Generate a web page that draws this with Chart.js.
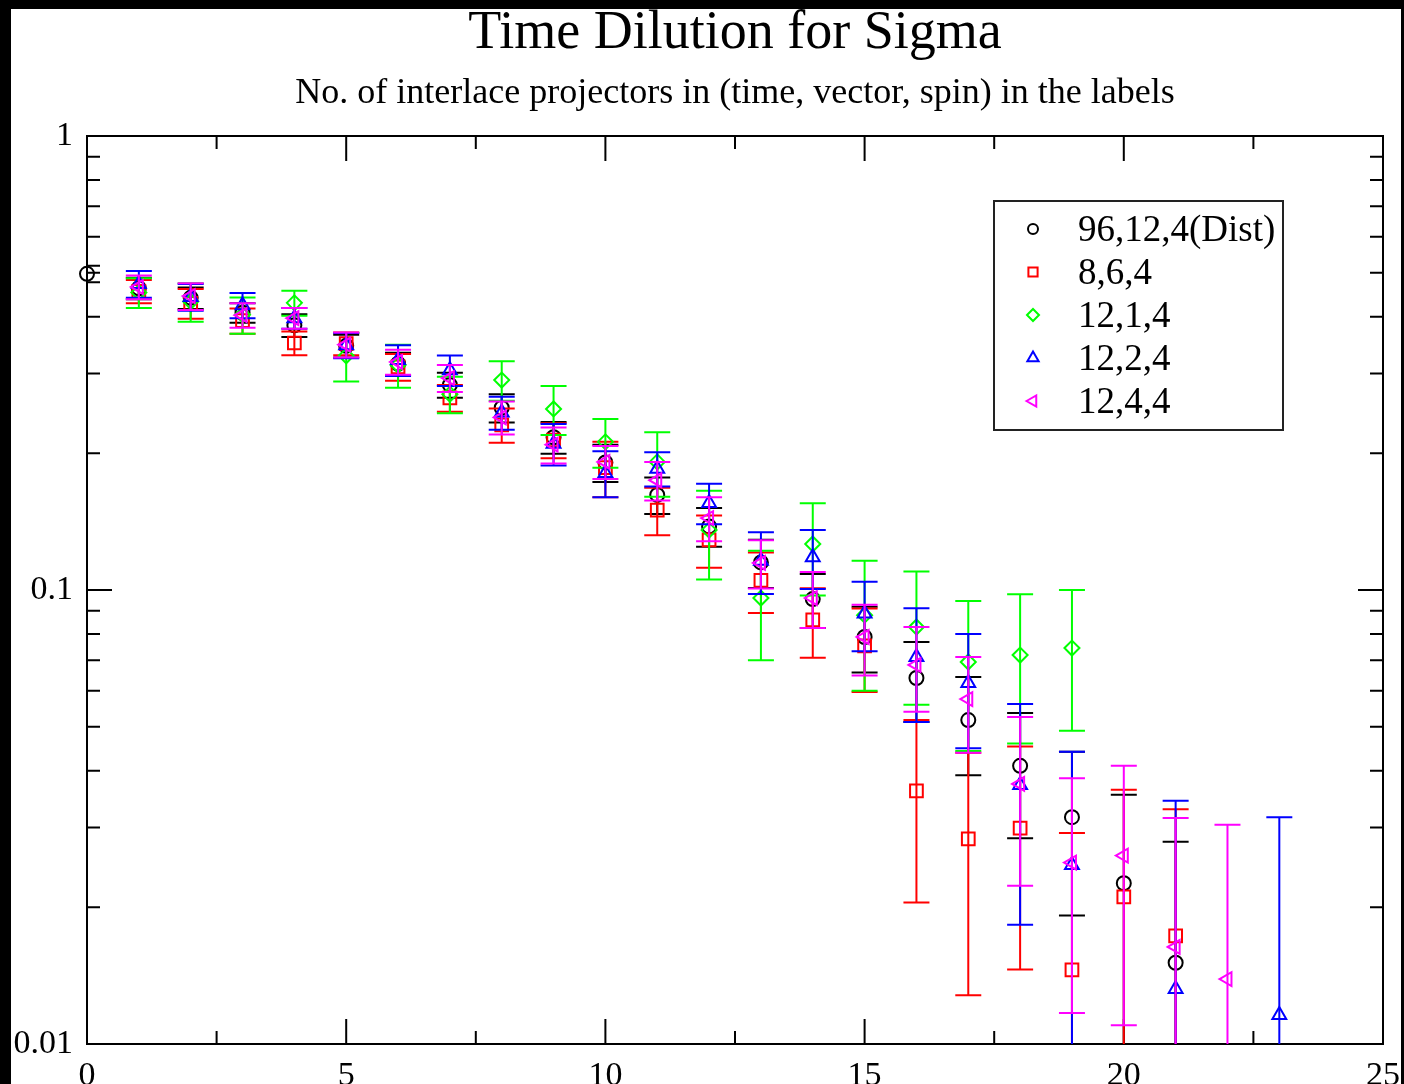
<!DOCTYPE html>
<html>
<head>
<meta charset="utf-8">
<script src="https://cdn.jsdelivr.net/npm/chart.js@4.4.1/dist/chart.umd.min.js"></script>
<style>
  html,body{margin:0;padding:0;background:#000;width:1404px;height:1084px;overflow:hidden}
  #wrap{position:absolute;left:11px;top:9px;width:1390px;height:1075px;background:#fff}
</style>
</head>
<body>
<div id="wrap"><canvas id="c"></canvas></div>
<script>
(() => {
  "use strict";

  const TITLE = "Time Dilution for Sigma";
  const SUBTITLE = "No. of interlace projectors in (time, vector, spin) in the labels";

  // time slices
  const steps = [0,1,2,3,4,5,6,7,8,9,10,11,12,13,14,15,16,17,18,19,20,21,22,23];

  // 96,12,4(Dist)
  const distVal = [0.497,0.462,0.440,0.408,0.383,0.345,0.315,0.283,0.252,0.217,0.191,0.162,0.138,0.115,0.0955,0.0788,0.064,0.0517,0.041,0.0316,0.0226,0.0151,null,null];
  const distErr = [0.021,0.025,0.024,0.020,0.022,0.020,0.018,0.018,0.018,0.0175,0.018,0.015,0.0135,0.014,0.013,0.013,0.0128,0.0126,0.0126,0.0124,0.0128,0.0128,null,null];
  // 8,6,4
  const r864Val = [null,0.455,0.428,0.392,0.350,0.349,0.310,0.265,0.231,0.214,0.186,0.150,0.129,0.105,0.0859,0.0753,0.0361,0.0283,0.0299,0.01456,0.0211,0.0173,null,null];
  const r864Err = [null,0.027,0.032,0.025,0.021,0.020,0.021,0.018,0.020,0.019,0.026,0.018,0.017,0.016,0.015,0.0157,0.0156,0.0155,0.0153,0.0146,0.0152,0.0156,null,null];
  // 12,1,4
  const g1214Val = [null,0.452,0.432,0.404,0.429,0.328,0.313,0.270,0.290,0.2505,0.212,0.1915,0.1355,0.096,0.1263,0.088,0.0829,0.0694,0.0719,0.0745,null,null,null,null];
  const g1214Err = [null,0.034,0.042,0.037,0.027,0.040,0.034,0.025,0.029,0.031,0.026,0.031,0.030,0.026,0.029,0.028,0.027,0.0252,0.026,0.0255,null,null,null,null];
  // 12,2,4
  const b1224Val = [null,0.472,0.442,0.424,0.397,0.346,0.321,0.305,0.246,0.210,0.181,0.185,0.1555,0.116,0.118,0.0888,0.0712,0.0624,0.0372,0.0248,null,0.01322,null,0.01158];
  const b1224Err = [null,0.032,0.030,0.027,0.021,0.022,0.025,0.0235,0.0205,0.022,0.021,0.016,0.016,0.018,0.0175,0.0155,0.020,0.0176,0.0189,0.0192,null,0.0211,null,0.020];
  // 12,4,4
  const m1244Val = [null,0.465,0.444,0.403,0.397,0.347,0.318,0.293,0.240,0.209,0.1915,0.1745,0.144,0.1147,0.096,0.0788,0.0684,0.0575,0.0374,0.0251,0.026,0.01636,0.0139,null];
  const m1244Err = [null,0.028,0.030,0.025,0.021,0.022,0.020,0.020,0.020,0.019,0.016,0.017,0.016,0.014,0.0135,0.014,0.0145,0.0137,0.0151,0.0134,0.015,0.0151,0.0165,null];

  const seriesLabels = ["96,12,4(Dist)","8,6,4","12,1,4","12,2,4","12,4,4"];
  const seriesColors = ["#000000","#ff0000","#00ff00","#0000ff","#ff00ff"];
  const seriesVals = [distVal,r864Val,g1214Val,b1224Val,m1244Val];
  const seriesErrs = [distErr,r864Err,g1214Err,b1224Err,m1244Err];
  const seriesStyle = [
    {pointStyle:"circle", radius:7, rotation:0, legendR:5},
    {pointStyle:"rect", radius:9, rotation:0, legendR:6.5},
    {pointStyle:"rectRot", radius:7.5, rotation:0, legendR:6},
    {pointStyle:"triangle", radius:8, rotation:0, legendR:6.5},
    {pointStyle:"triangle", radius:8, rotation:-90, legendR:6.5}
  ];

  // axis ticks
  const xMajor = [0,5,10,15,20,25];
  const xMinor = [2.5,7.5,12.5,17.5,22.5];
  const yMajor = [0.01,0.1,1];
  const yMinor = [0.02,0.03,0.04,0.05,0.06,0.07,0.08,0.09,0.2,0.3,0.4,0.5,0.6,0.7,0.8,0.9];

  const SERIF = '"Liberation Serif","Times New Roman",serif';
  const CAP = 13;

  const datasets = seriesLabels.map((label,i)=>{
    const st = seriesStyle[i];
    const pts = [];
    steps.forEach((x,k)=>{
      const v = seriesVals[i][k];
      if(v!=null) pts.push({x, y:v, e:seriesErrs[i][k]});
    });
    return {
      label, data: pts, order: seriesLabels.length - i,
      borderColor: seriesColors[i], backgroundColor: "rgba(0,0,0,0)",
      pointStyle: st.pointStyle, pointRadius: st.radius, pointRotation: st.rotation,
      pointBorderWidth: 2, pointHoverRadius: st.radius, showLine:false, clip:false
    };
  });

  // vertical error bars with caps, drawn under each dataset's markers
  const errorBars = {
    id:"errorBars",
    beforeDatasetDraw(chart, args){
      const ds = chart.data.datasets[args.index];
      const {ctx, chartArea:a, scales:{x, y}} = chart;
      ctx.save();
      ctx.beginPath(); ctx.rect(a.left, a.top, a.right-a.left, a.bottom-a.top); ctx.clip();
      ctx.strokeStyle = ds.borderColor; ctx.lineWidth = 2;
      ds.data.forEach(p=>{
        const px = x.getPixelForValue(p.x);
        const lo = p.y - p.e, hi = p.y + p.e;
        const yHi = y.getPixelForValue(hi);
        const yLo = lo > 0 ? y.getPixelForValue(lo) : a.bottom + 20;
        ctx.beginPath();
        ctx.moveTo(px, yHi); ctx.lineTo(px, yLo);
        ctx.moveTo(px-CAP, yHi); ctx.lineTo(px+CAP, yHi);
        if(lo > 0){ ctx.moveTo(px-CAP, yLo); ctx.lineTo(px+CAP, yLo); }
        ctx.stroke();
      });
      ctx.restore();
    }
  };

  const frame = {
    id:"frame",
    beforeDatasetsDraw(chart){
      const {ctx, chartArea:a, scales:{x, y}} = chart;
      ctx.save();
      ctx.strokeStyle="#000"; ctx.lineWidth=2;
      ctx.strokeRect(a.left, a.top, a.right-a.left, a.bottom-a.top);
      ctx.beginPath();
      const xt = (v,len)=>{ const p=x.getPixelForValue(v); ctx.moveTo(p,a.bottom); ctx.lineTo(p,a.bottom-len); ctx.moveTo(p,a.top); ctx.lineTo(p,a.top+len); };
      const yt = (v,len)=>{ const p=y.getPixelForValue(v); ctx.moveTo(a.left,p); ctx.lineTo(a.left+len,p); ctx.moveTo(a.right,p); ctx.lineTo(a.right-len,p); };
      xMajor.forEach(v=>xt(v,25)); xMinor.forEach(v=>xt(v,13));
      yMajor.forEach(v=>yt(v,25)); yMinor.forEach(v=>yt(v,13));
      ctx.stroke();
      ctx.restore();
    },
    afterDraw(chart){
      const {ctx, chartArea:a} = chart;
      ctx.save();
      ctx.fillStyle="#000"; ctx.textAlign="center"; ctx.textBaseline="alphabetic";
      const cx = (a.left+a.right)/2;
      ctx.font = "54px "+SERIF; ctx.fillText(TITLE, cx, 39);
      ctx.font = "36px "+SERIF; ctx.fillText(SUBTITLE, cx, 94);

      // legend box
      const bx = a.right-389, by = a.top+65, bw = 289, bh = 229;
      ctx.fillStyle="#fff"; ctx.fillRect(bx,by,bw,bh);
      ctx.strokeStyle="#222"; ctx.lineWidth=2; ctx.strokeRect(bx,by,bw,bh);
      ctx.font = "37px "+SERIF; ctx.textAlign="left"; ctx.textBaseline="middle";
      seriesLabels.forEach((lab,i)=>{
        const ry = by + 28 + i*43;
        const st = seriesStyle[i];
        ctx.strokeStyle = seriesColors[i]; ctx.fillStyle="rgba(0,0,0,0)"; ctx.lineWidth=2;
        Chart.helpers.drawPoint(ctx, {pointStyle:st.pointStyle, radius:st.legendR, rotation:st.rotation, borderWidth:2}, bx+39, ry);
        ctx.fillStyle="#000";
        ctx.fillText(lab, bx+84, ry+2);
      });
      ctx.restore();
    }
  };

  new Chart(document.getElementById("c"), {
    type:"scatter",
    data:{datasets},
    plugins:[errorBars, frame],
    options:{
      responsive:true, maintainAspectRatio:false, animation:false,
      layout:{padding:{top:127, right:18, left:0, bottom:0}},
      plugins:{legend:{display:false}, tooltip:{enabled:false}, title:{display:false}},
      scales:{
        x:{
          type:"linear", min:0, max:25,
          grid:{display:false}, border:{display:false},
          afterBuildTicks:s=>{ s.ticks = xMajor.map(v=>({value:v})); },
          afterFit:s=>{ s.height = 40; s.paddingLeft = 0; s.paddingRight = 0; },
          ticks:{color:"#000", font:{family:SERIF, size:34}, padding:4, maxRotation:0, callback:v=>String(v)}
        },
        y:{
          type:"logarithmic", min:0.01, max:1,
          grid:{display:false}, border:{display:false},
          afterBuildTicks:s=>{ s.ticks = yMajor.map(v=>({value:v})); },
          afterFit:s=>{ s.width = 76; s.paddingTop = 0; s.paddingBottom = 0; },
          ticks:{color:"#000", font:{family:SERIF, size:34}, padding:6, callback:v=>String(v)}
        }
      }
    }
  });
})();
</script>
</body>
</html>
